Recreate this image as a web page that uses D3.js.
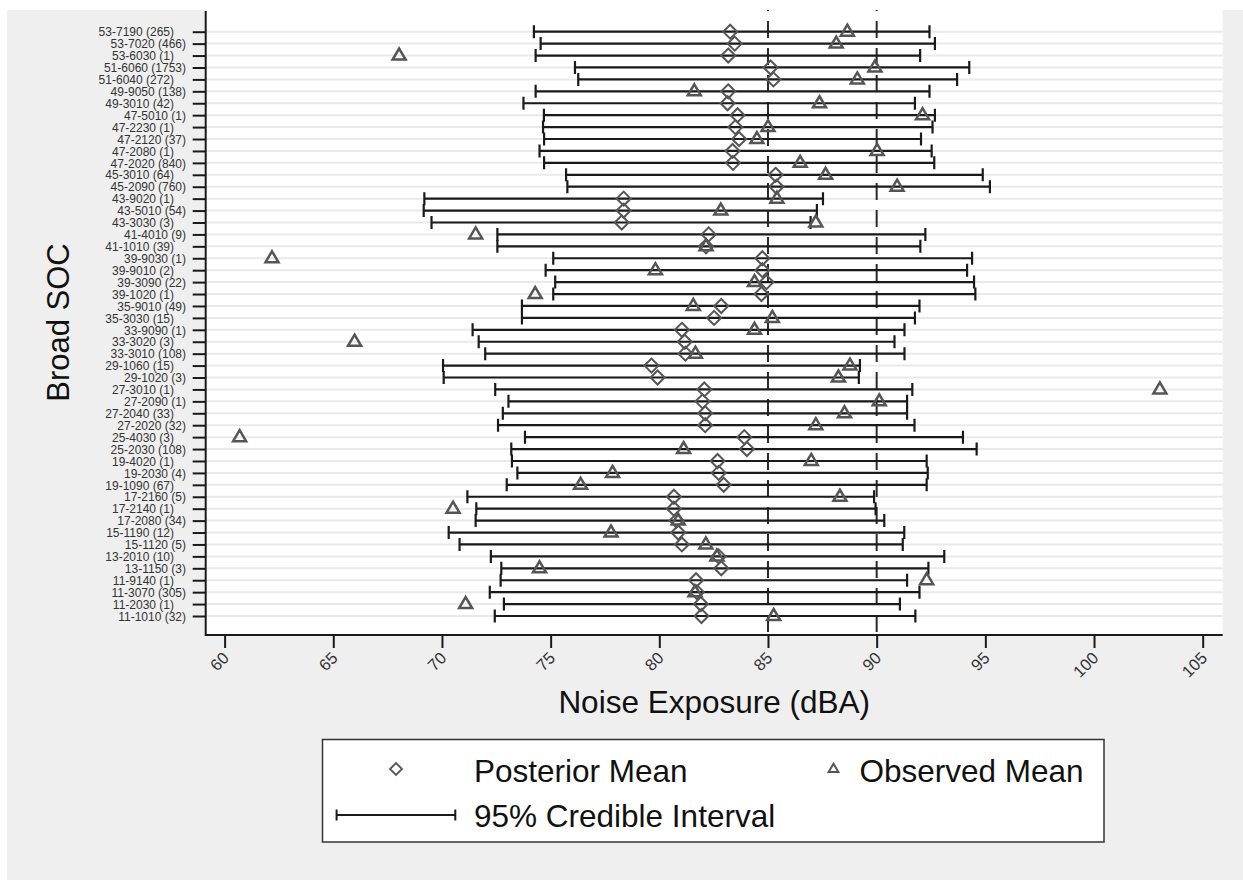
<!DOCTYPE html>
<html>
<head>
<meta charset="utf-8">
<script src="https://cdn.jsdelivr.net/npm/d3@7"></script>
<style>
  body { margin: 0; background: #ffffff; }
  svg text { font-family: "Liberation Sans", Arial, sans-serif; }
</style>
</head>
<body>
<svg id="svg_plot" width="1243" height="880"></svg>
<script>

// Occupation labels (top to bottom)
const soc_labels = ["53-7190 (265)", "53-7020 (466)", "53-6030 (1)", "51-6060 (1753)", "51-6040 (272)",
    "49-9050 (138)", "49-3010 (42)", "47-5010 (1)", "47-2230 (1)", "47-2120 (37)", "47-2080 (1)",
    "47-2020 (840)", "45-3010 (64)", "45-2090 (760)", "43-9020 (1)", "43-5010 (54)", "43-3030 (3)",
    "41-4010 (9)", "41-1010 (39)", "39-9030 (1)", "39-9010 (2)", "39-3090 (22)", "39-1020 (1)",
    "35-9010 (49)", "35-3030 (15)", "33-9090 (1)", "33-3020 (3)", "33-3010 (108)", "29-1060 (15)",
    "29-1020 (3)", "27-3010 (1)", "27-2090 (1)", "27-2040 (33)", "27-2020 (32)", "25-4030 (3)",
    "25-2030 (108)", "19-4020 (1)", "19-2030 (4)", "19-1090 (67)", "17-2160 (5)", "17-2140 (1)",
    "17-2080 (34)", "15-1190 (12)", "15-1120 (5)", "13-2010 (10)", "13-1150 (3)", "11-9140 (1)",
    "11-3070 (305)", "11-2030 (1)", "11-1010 (32)"];

// 95% credible interval, lower end
const ci_low = [74.23, 74.54, 74.31, 76.12, 76.27, 74.31, 73.75, 74.69, 74.65, 74.70, 74.49,
    74.70, 75.71, 75.77, 69.19, 69.16, 69.52, 72.55, 72.55, 75.12, 74.77, 75.21, 75.12,
    73.68, 73.68, 71.41, 71.69, 71.99, 70.05, 70.08, 72.45, 73.06, 72.80, 72.58, 73.82,
    73.19, 73.22, 73.47, 72.98, 71.17, 71.58, 71.55, 70.31, 70.81, 72.25, 72.73, 72.70,
    72.20, 72.85, 72.43];

// 95% credible interval, upper end
const ci_high = [92.43, 92.68, 92.00, 94.26, 93.70, 92.43, 91.76, 92.68, 92.57, 92.04, 92.53,
    92.65, 94.88, 95.21, 87.53, 87.25, 86.96, 92.24, 92.01, 94.39, 94.16, 94.48, 94.54,
    91.97, 91.76, 91.28, 90.82, 91.28, 89.23, 89.18, 91.64, 91.40, 91.40, 91.74, 93.97,
    94.60, 92.30, 92.35, 92.30, 89.88, 89.95, 90.35, 91.27, 91.20, 93.11, 92.38, 91.40,
    91.97, 91.07, 91.78];

// Posterior means (diamonds)
const posterior_mean = [83.26, 83.47, 83.17, 85.12, 85.25, 83.17, 83.14, 83.60, 83.50, 83.67, 83.37,
    83.39, 85.35, 85.39, 78.36, 78.36, 78.27, 82.27, 82.15, 84.74, 84.74, 84.93, 84.70,
    82.85, 82.52, 81.04, 81.17, 81.20, 79.64, 79.92, 82.07, 81.99, 82.11, 82.11, 83.91,
    84.03, 82.68, 82.73, 82.96, 80.67, 80.67, 80.79, 80.87, 81.04, 82.73, 82.85, 81.69,
    81.73, 81.91, 81.94];

// Observed means (triangles)
const observed_mean = [88.65, 88.14, 68.03, 89.92, 89.11, 81.61, 87.37, 92.11, 85.00, 84.49, 90.02,
    86.48, 87.65, 90.94, 85.41, 82.83, 87.20, 71.55, 82.15, 62.18, 79.82, 84.38, 74.29,
    81.56, 85.20, 84.38, 65.98, 81.66, 88.77, 88.24, 103.03, 90.12, 88.52, 87.20, 60.69,
    81.12, 86.99, 77.85, 76.38, 88.31, 70.51, 80.87, 77.78, 82.14, 82.65, 74.49, 92.30,
    81.64, 71.09, 85.26];

const x_ticks = [60, 65, 70, 75, 80, 85, 90, 95, 100, 105];
const ref_lines = [85, 90];

const rows = soc_labels.map((d, i) => ({
    label: d, lo: ci_low[i], hi: ci_high[i], post: posterior_mean[i], obs: observed_mean[i]
}));

const svg = d3.select("#svg_plot");

// Colors
const bg_gray = "#efefef",
    grid_gray = "#e9e9e9",
    ink = "#1a1a1a",
    marker_gray = "#555555";

// Plot region
const plot_left = 205.7, plot_right = 1222.7,
    plot_top = 10, plot_bottom = 635;

// Graph background
svg.append("rect").attr("x", 7).attr("y", 10).attr("width", 1243 - 7).attr("height", 880 - 10)
    .attr("fill", bg_gray);
svg.append("rect").attr("x", plot_left).attr("y", plot_top)
    .attr("width", plot_right - plot_left).attr("height", plot_bottom - plot_top)
    .attr("fill", "#ffffff");

// Scales
const x = d3.scaleLinear().domain([60, 105]).range([224.6, 1202.7]);
const y = d3.scalePoint().domain(soc_labels).range([31.7, 616]);

// Gridlines
svg.append("g").attr("class", "grid")
    .selectAll("line").data(soc_labels).enter().append("line")
    .attr("x1", plot_left).attr("x2", plot_right)
    .attr("y1", d => y(d)).attr("y2", d => y(d))
    .attr("stroke", grid_gray).attr("stroke-width", 2);

// Reference lines at 85 and 90 dBA
svg.append("g").attr("class", "ref")
    .selectAll("line").data(ref_lines).enter().append("line")
    .attr("x1", d => x(d)).attr("x2", d => x(d))
    .attr("y1", plot_top).attr("y2", plot_bottom)
    .attr("stroke", "#2a2a2a").attr("stroke-width", 2)
    .attr("stroke-dasharray", "17,10").attr("stroke-dashoffset", -11);

// Y axis
const y_axis = svg.append("g")
    .attr("transform", `translate(${plot_left},0)`)
    .call(d3.axisLeft(y).tickSize(13).tickPadding(0));
y_axis.select(".domain").remove();
y_axis.selectAll(".tick line").attr("stroke", ink).attr("stroke-width", 2);
y_axis.selectAll(".tick text")
    .attr("x", (d, i) => i % 2 === 0 ? -31.7 : -19.7)
    .attr("dy", "0.35em")
    .attr("font-size", 12).attr("fill", "#333333")
    .style("font-family", "'Liberation Sans', Arial, sans-serif");

// X axis
const x_axis = svg.append("g")
    .attr("transform", `translate(0,${plot_bottom})`)
    .call(d3.axisBottom(x).tickValues(x_ticks).tickSize(13).tickFormat(d3.format("d")));
x_axis.select(".domain").remove();
x_axis.selectAll(".tick line").attr("stroke", ink).attr("stroke-width", 2);
x_axis.selectAll(".tick text")
    .attr("y", 0).attr("dy", 0)
    .attr("transform", "translate(5,24) rotate(-45)")
    .attr("text-anchor", "end")
    .attr("font-size", 16.5).attr("fill", "#333333")
    .style("font-family", "'Liberation Sans', Arial, sans-serif");

// Axis lines
svg.append("line").attr("x1", plot_left).attr("x2", plot_left)
    .attr("y1", plot_top + 1).attr("y2", plot_bottom + 1)
    .attr("stroke", ink).attr("stroke-width", 2);
svg.append("line").attr("x1", plot_left).attr("x2", plot_right)
    .attr("y1", plot_bottom).attr("y2", plot_bottom)
    .attr("stroke", ink).attr("stroke-width", 2);

// Credible intervals
const ci = svg.append("g").attr("class", "ci");
ci.selectAll("path")
    .data(rows).enter().append("path")
    .attr("d", d => {
        const yy = y(d.label), x0 = x(d.lo), x1 = x(d.hi);
        return `M ${x0},${yy} L ${x1},${yy} M ${x0},${yy - 6.5} L ${x0},${yy + 6.5} M ${x1},${yy - 6.5} L ${x1},${yy + 6.5}`;
    })
    .attr("fill", "none").attr("stroke", ink).attr("stroke-width", 2.2);

// Posterior mean diamonds
const diamond = (cx, cy, r) => `M ${cx},${cy - r} L ${cx + r},${cy} L ${cx},${cy + r} L ${cx - r},${cy} Z`;
svg.append("g").attr("class", "post")
    .selectAll("path").data(rows).enter().append("path")
    .attr("d", d => diamond(x(d.post), y(d.label), 7))
    .attr("fill", "none").attr("stroke", marker_gray).attr("stroke-width", 2);

// Observed mean triangles
const triangle = (cx, cy, s) => `M ${cx},${cy - 7 * s} L ${cx + 6.5 * s},${cy + 4 * s} L ${cx - 6.5 * s},${cy + 4 * s} Z`;
svg.append("g").attr("class", "obs")
    .selectAll("path").data(rows).enter().append("path")
    .attr("d", d => triangle(x(d.obs), y(d.label), 1))
    .attr("fill", "none").attr("stroke", marker_gray).attr("stroke-width", 2.5)
    .attr("stroke-linejoin", "miter");

// Axis titles
svg.append("text")
    .attr("x", (plot_left + plot_right) / 2).attr("y", 713)
    .attr("text-anchor", "middle").attr("font-size", 31.5).attr("fill", "#111")
    .text("Noise Exposure (dBA)");

svg.append("text")
    .attr("transform", `translate(69,${(plot_top + plot_bottom) / 2}) rotate(-90)`)
    .attr("text-anchor", "middle").attr("font-size", 31).attr("fill", "#111")
    .text("Broad SOC");

// Legend
const legend = svg.append("g").attr("class", "legend");
legend.append("rect")
    .attr("x", 322.5).attr("y", 739.5).attr("width", 1104 - 322.5).attr("height", 842 - 739.5)
    .attr("fill", "#ffffff").attr("stroke", "#333333").attr("stroke-width", 1.5);

legend.append("path").attr("d", diamond(396, 769, 6))
    .attr("fill", "none").attr("stroke", marker_gray).attr("stroke-width", 1.8);
legend.append("text").attr("x", 474).attr("y", 782).attr("font-size", 31.5).attr("fill", "#111")
    .text("Posterior Mean");

legend.append("path").attr("d", triangle(833.5, 769, 0.75))
    .attr("fill", "none").attr("stroke", marker_gray).attr("stroke-width", 2);
legend.append("text").attr("x", 859.5).attr("y", 782).attr("font-size", 31.5).attr("fill", "#111")
    .text("Observed Mean");

legend.append("path")
    .attr("d", "M 336.6,815 L 455.3,815 M 336.6,809.5 L 336.6,820.5 M 455.3,809.5 L 455.3,820.5")
    .attr("fill", "none").attr("stroke", ink).attr("stroke-width", 2);
legend.append("text").attr("x", 474).attr("y", 826.5).attr("font-size", 31.5).attr("fill", "#111")
    .text("95% Credible Interval");

</script>
</body>
</html>
